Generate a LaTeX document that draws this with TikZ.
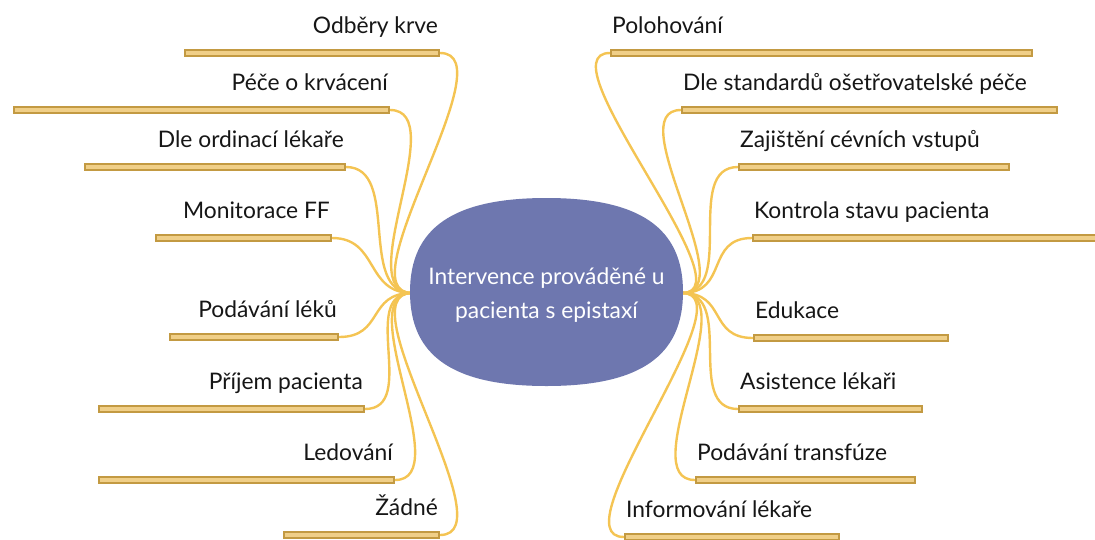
\documentclass[tikz,border=0pt]{standalone}
\usepackage{fontspec}
\setmainfont{Lato}
\usetikzlibrary{backgrounds}
\definecolor{hubFill}{HTML}{6E77AF}
\definecolor{barFill}{HTML}{F0CF88}
\definecolor{barEdge}{HTML}{C39A42}
\definecolor{linkCol}{HTML}{F4C453}
\definecolor{ink}{HTML}{161616}
\begin{document}
\begin{tikzpicture}[x=1pt,y=-1pt,
  bar/.style={rectangle, draw=barEdge, fill=barFill, line width=2pt,
              inner sep=0pt, minimum height=6pt},
  lbl/.style={font=\fontsize{22.8}{27}\selectfont, text=ink, inner sep=0pt},
  link/.style={draw=linkCol, line width=2.4pt}]
\useasboundingbox (0,0) rectangle (1095,539);

% central topic: flattened oval
\fill[hubFill] (410,292) .. controls (410,228) and (453,198) .. (546.5,198)
  .. controls (640,198) and (683,228) .. (683,292)
  .. controls (683,356) and (640,386) .. (546.5,386)
  .. controls (453,386) and (410,356) .. (410,292) -- cycle;
\node[font=\fontsize{22.8}{34}\selectfont, text=white, align=center, inner sep=0pt]
  (hub) at (546.5,295) {Intervence prováděné u\\pacienta s epistaxí};
\coordinate (cL) at (412,293);
\coordinate (cR) at (682,293);

% left branches
\node[bar, minimum width=254pt] (l1) at (312,53) {};
\node[bar, minimum width=375pt] (l2) at (201.5,110) {};
\node[bar, minimum width=260pt] (l3) at (215,167) {};
\node[bar, minimum width=175pt] (l4) at (243.5,238) {};
\node[bar, minimum width=168pt] (l5) at (254,337) {};
\node[bar, minimum width=265pt] (l6) at (231.5,409) {};
\node[bar, minimum width=295pt] (l7) at (246.5,480) {};
\node[bar, minimum width=155pt] (l8) at (361.5,535) {};

\node[lbl, anchor=base east] (tl1) at ([shift={(-2,-20)}]l1.east) {Odběry krve};
\node[lbl, anchor=base east] (tl2) at ([shift={(-2,-20)}]l2.east) {Péče o krvácení};
\node[lbl, anchor=base east] (tl3) at ([shift={(-2,-20)}]l3.east) {Dle ordinací lékaře};
\node[lbl, anchor=base east] (tl4) at ([shift={(-2,-20)}]l4.east) {Monitorace FF};
\node[lbl, anchor=base east] (tl5) at ([shift={(-2,-20)}]l5.east) {Podávání léků};
\node[lbl, anchor=base east] (tl6) at ([shift={(-2,-20)}]l6.east) {Příjem pacienta};
\node[lbl, anchor=base east] (tl7) at ([shift={(-2,-20)}]l7.east) {Ledování};
\node[lbl, anchor=base east] (tl8) at ([shift={(-2,-20)}]l8.east) {Žádné};

% right branches
\node[bar, minimum width=421pt] (r1) at (821.5,53) {};
\node[bar, minimum width=375pt] (r2) at (869.5,110) {};
\node[bar, minimum width=270pt] (r3) at (874,167) {};
\node[bar, minimum width=346pt] (r4) at (926,238) {};
\node[bar, minimum width=194pt] (r5) at (851,338) {};
\node[bar, minimum width=183pt] (r6) at (830.5,409) {};
\node[bar, minimum width=219pt] (r7) at (805.5,480) {};
\node[bar, minimum width=214pt] (r8) at (732,537) {};

\node[lbl, anchor=base west] (tr1) at ([shift={(2,-20)}]r1.west) {Polohování};
\node[lbl, anchor=base west] (tr2) at ([shift={(2,-20)}]r2.west) {Dle standardů ošetřovatelské péče};
\node[lbl, anchor=base west] (tr3) at ([shift={(2,-20)}]r3.west) {Zajištění cévních vstupů};
\node[lbl, anchor=base west] (tr4) at ([shift={(2,-20)}]r4.west) {Kontrola stavu pacienta};
\node[lbl, anchor=base west] (tr5) at ([shift={(2,-20)}]r5.west) {Edukace};
\node[lbl, anchor=base west] (tr6) at ([shift={(2,-20)}]r6.west) {Asistence lékaři};
\node[lbl, anchor=base west] (tr7) at ([shift={(2,-20)}]r7.west) {Podávání transfúze};
\node[lbl, anchor=base west] (tr8) at ([shift={(2,-20)}]r8.west) {Informování lékaře};

% connectors, behind the bars
\begin{scope}[on background layer]
\draw[link] (cL) .. controls +(-69,0) and +(69,0) .. (l1.east);
\draw[link] (cL) .. controls +(-62,0) and +(62,0) .. (l2.east);
\draw[link] (cL) .. controls +(-55,0) and +(55,0) .. (l3.east);
\draw[link] (cL) .. controls +(-47,0) and +(47,0) .. (l4.east);
\draw[link] (cL) .. controls +(-45,0) and +(45,0) .. (l5.east);
\draw[link] (cL) .. controls +(-54,0) and +(54,0) .. (l6.east);
\draw[link] (cL) .. controls +(-62,0) and +(62,0) .. (l7.east);
\draw[link] (cL) .. controls +(-69,0) and +(69,0) .. (l8.east);
\draw[link] (cR) .. controls +(69,0) and +(-69,0) .. (r1.west);
\draw[link] (cR) .. controls +(62,0) and +(-62,0) .. (r2.west);
\draw[link] (cR) .. controls +(55,0) and +(-55,0) .. (r3.west);
\draw[link] (cR) .. controls +(47,0) and +(-47,0) .. (r4.west);
\draw[link] (cR) .. controls +(45,0) and +(-45,0) .. (r5.west);
\draw[link] (cR) .. controls +(54,0) and +(-54,0) .. (r6.west);
\draw[link] (cR) .. controls +(62,0) and +(-62,0) .. (r7.west);
\draw[link] (cR) .. controls +(69,0) and +(-69,0) .. (r8.west);
\end{scope}
\end{tikzpicture}
\end{document}
